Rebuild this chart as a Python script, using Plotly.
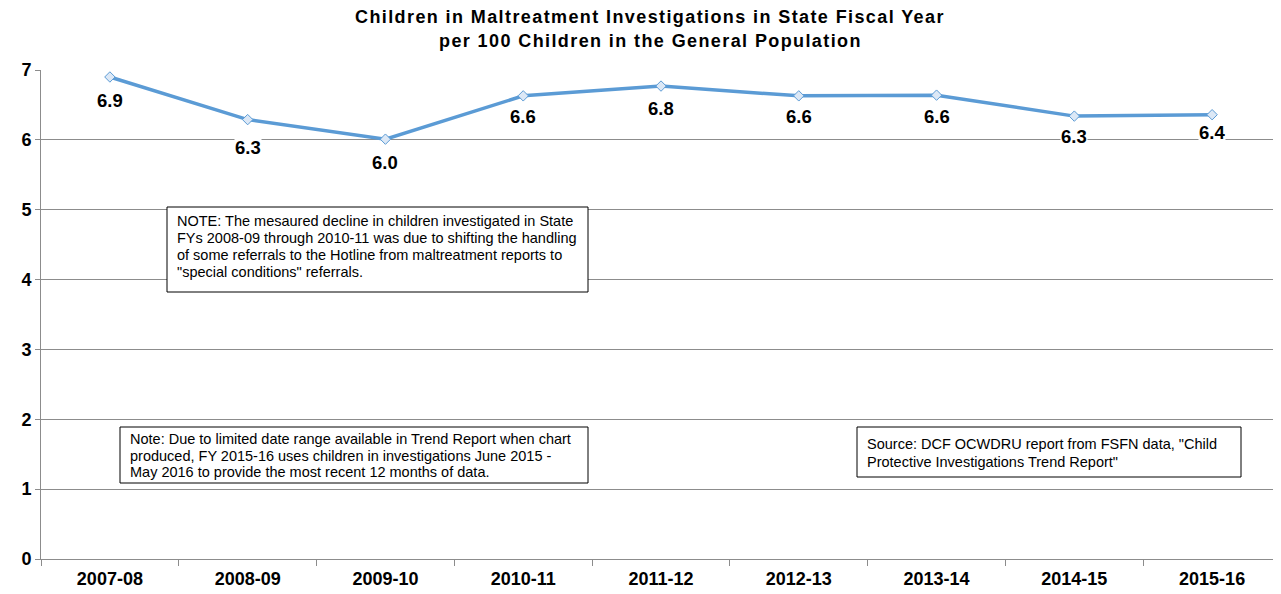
import plotly.graph_objects as go

# State fiscal years and children investigated per 100 children
years = ["2007-08", "2008-09", "2009-10", "2010-11", "2011-12",
         "2012-13", "2013-14", "2014-15", "2015-16"]
rates = [6.90, 6.29, 6.01, 6.63, 6.77, 6.63, 6.64, 6.34, 6.36]
y_ticks = [0, 1, 2, 3, 4, 5, 6, 7]

title_lines = ["Children in Maltreatment Investigations in State Fiscal Year",
               "per 100 Children in the General Population"]
note_decline = ["NOTE: The mesaured decline in children investigated in State",
                "FYs 2008-09 through 2010-11 was due to shifting the handling",
                "of some referrals to the Hotline from maltreatment reports to",
                "\"special conditions\" referrals."]
note_range = ["Note: Due to limited date range available in Trend Report when chart",
              "produced, FY 2015-16 uses children in investigations June 2015 -",
              "May 2016 to provide the most recent 12 months of data."]
note_source = ["Source: DCF OCWDRU report from FSFN data, \"Child",
               "Protective Investigations Trend Report\""]

LINE = "#5B9BD5"
GRID = "#8C8C8C"
FAM = "Liberation Sans, Arial, sans-serif"
BOLD = dict(family=FAM, size=18, color="black", weight="bold")

# page sits inside an 8px body margin; plot area spans page px 41..1281 x 70..559
PL, PR, PT, PB = 41, 1281, 70, 559


def px(x):
    return (x - PL) / (PR - PL)


def py(y):
    return (PB - y) / (PB - PT)


fig = go.Figure()
fig.add_trace(go.Scatter(
    x=years, y=rates, mode="lines+markers",
    line=dict(color=LINE, width=3.5),
    marker=dict(symbol="diamond", size=8, color="#DCE8F6",
                line=dict(color=LINE, width=1)),
    hoverinfo="skip", showlegend=False,
))

# data labels below each point
label_shift = [-24, -28, -23, -21, -22, -21, -21, -20, -18]
for yr, v, s in zip(years, rates, label_shift):
    fig.add_annotation(x=yr, y=v, text=f"{v:.1f}", showarrow=False,
                       yshift=s, font=dict(BOLD, size=18.5), bgcolor="white",
                       borderpad=0)

# title
for i, line in enumerate(title_lines):
    fig.add_annotation(xref="paper", yref="paper", x=px(650), y=py(17 + 23.5 * i),
                       text=f'<span style="letter-spacing:1.4px">{line}</span>',
                       showarrow=False, xanchor="center",
                       yanchor="middle", font=dict(BOLD, size=18))

# note boxes
box_font = dict(family=FAM, size=14.5, color="black")
for lines, (x0, y0, x1, y1), tx, ty, step in [
        (note_decline, (167, 207, 588, 292), 175, 221, 17),
        (note_range, (120, 427, 588, 483), 128, 439, 16.5),
        (note_source, (857, 427, 1241, 477), 865, 444, 18)]:
    fig.add_shape(type="rect", xref="paper", yref="paper",
                  x0=px(x0), x1=px(x1), y0=py(y0), y1=py(y1),
                  line=dict(color="black", width=1), fillcolor="white",
                  layer="above")
    for i, line in enumerate(lines):
        fig.add_annotation(xref="paper", yref="paper", x=px(tx),
                           y=py(ty + step * i), text=line, showarrow=False,
                           xanchor="left", yanchor="middle", font=box_font)

fig.update_layout(
    width=1273, height=586,
    margin=dict(l=PL - 8, r=0, t=PT - 8, b=594 - PB - 8 + 8),
    paper_bgcolor="white", plot_bgcolor="white",
    xaxis=dict(type="category", tickfont=BOLD, showgrid=False,
               showline=True, linecolor=GRID, linewidth=1,
               ticks="outside", tickson="boundaries", ticklen=6,
               tickcolor=GRID, range=[-0.5, 8.5], fixedrange=True,
               ticklabelstandoff=3),
    yaxis=dict(range=[0, 7], tickvals=y_ticks, tickfont=BOLD,
               showgrid=True, gridcolor=GRID, gridwidth=1,
               showline=True, linecolor=GRID, linewidth=1,
               ticks="outside", ticklen=5, tickcolor=GRID,
               zeroline=False, fixedrange=True),
)

fig.write_html("out.html")
